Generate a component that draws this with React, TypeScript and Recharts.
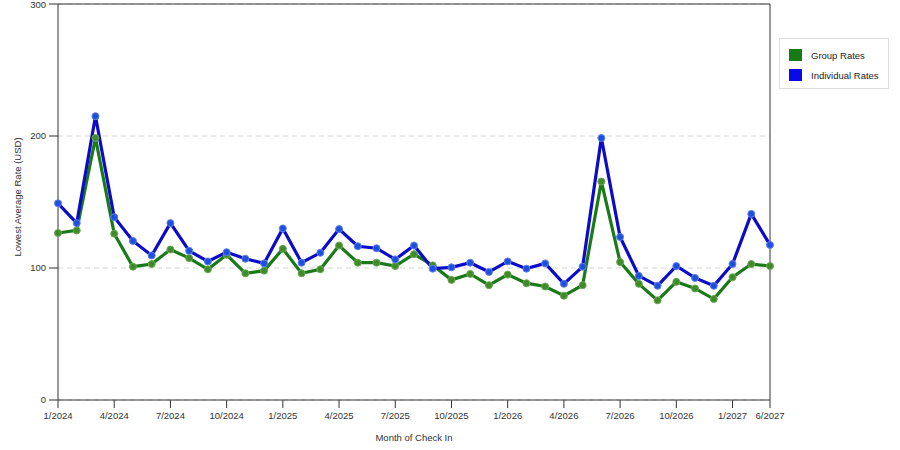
import { LineChart, Line, XAxis, YAxis, CartesianGrid, ReferenceLine } from "recharts";

const months = [
  "1/2024", "2/2024", "3/2024", "4/2024", "5/2024", "6/2024", "7/2024", "8/2024", "9/2024", "10/2024", "11/2024", "12/2024",
  "1/2025", "2/2025", "3/2025", "4/2025", "5/2025", "6/2025", "7/2025", "8/2025", "9/2025", "10/2025", "11/2025", "12/2025",
  "1/2026", "2/2026", "3/2026", "4/2026", "5/2026", "6/2026", "7/2026", "8/2026", "9/2026", "10/2026", "11/2026", "12/2026",
  "1/2027", "3/2027", "6/2027",
];

const groupRates = [
  126.5, 128.5, 198.5, 126, 101, 103, 114, 107.5, 99, 110, 96, 98,
  114.5, 96, 99, 117, 104, 104, 101.5, 110.5, 102, 91, 95.5, 87,
  95, 88.5, 86, 79, 87, 165.5, 104.5, 88, 75.5, 89.5, 84.5, 76.5,
  93, 103, 101.5,
];

const individualRates = [
  149, 134, 215, 138.5, 120.5, 109.5, 134, 113, 105, 112, 107, 103.5,
  130, 104, 111.5, 129.5, 116.5, 115, 106.5, 117, 99.5, 100.5, 104, 97,
  105, 99.5, 103.5, 88, 101, 198.5, 123.5, 94, 86.5, 101.5, 92.5, 86.5,
  103, 141, 117.5,
];

const xTicks = ["1/2024", "4/2024", "7/2024", "10/2024", "1/2025", "4/2025", "7/2025", "10/2025", "1/2026", "4/2026", "7/2026", "10/2026", "1/2027", "6/2027"];
const yTicks = [0, 100, 200, 300];

const series = [
  { key: "group", name: "Group Rates", color: "#1a7a1a", dot: "#3f8a2a", rim: "#6aa852", swatch: "#177a17" },
  { key: "individual", name: "Individual Rates", color: "#0c0cc8", dot: "#1f50dc", rim: "#5f80ee", swatch: "#0a0ae6" },
];

const data = months.map((m, i) => ({ month: m, group: groupRates[i], individual: individualRates[i] }));

const FONT = "'Liberation Sans', Arial, sans-serif";
const AXIS = "#333333";

export default function App() {
  return (
    <div style={{ position: "absolute", left: 0, top: 0, width: 900, height: 450, background: "#fff", fontFamily: FONT }}>
      <LineChart width={900} height={450} data={data} margin={{ top: 4, right: 130, left: 0, bottom: 10 }}>
        <CartesianGrid vertical={false} stroke="#d4d4d4" strokeDasharray="5 4" />
        <XAxis
          dataKey="month"
          ticks={xTicks}
          interval={0}
          height={40}
          tickSize={8}
          tickMargin={4}
          stroke={AXIS}
          tick={{ fill: AXIS, fontSize: 9.5, fontFamily: FONT }}
          label={{ value: "Month of Check In", position: "insideBottom", offset: -1, fill: AXIS, fontSize: 9.5, fontFamily: FONT }}
        />
        <YAxis
          domain={[0, 300]}
          ticks={yTicks}
          width={58}
          tickSize={9}
          tickMargin={3}
          stroke={AXIS}
          tick={{ fill: AXIS, fontSize: 9.5, fontFamily: FONT }}
          label={{
            value: "Lowest Average Rate (USD)",
            angle: -90,
            position: "insideLeft",
            offset: 18,
            dy: -5,
            fill: AXIS,
            fontSize: 9.5,
            fontFamily: FONT,
            style: { textAnchor: "middle" },
          }}
        />
        <ReferenceLine y={300} stroke={AXIS} strokeWidth={1} />
        <ReferenceLine x="6/2027" stroke={AXIS} strokeWidth={1} />
        {series.map((s) => (
          <Line
            key={s.key}
            dataKey={s.key}
            name={s.name}
            type="linear"
            stroke={s.color}
            strokeWidth={3.2}
            dot={{ r: 3.5, fill: s.dot, stroke: s.rim, strokeWidth: 1 }}
            activeDot={false}
            isAnimationActive={false}
          />
        ))}
      </LineChart>
      <div
        style={{
          position: "absolute",
          left: 779,
          top: 38,
          width: 110,
          height: 51,
          boxSizing: "border-box",
          border: "1px solid #dddddd",
          padding: "6px 0 0 9px",
        }}
      >
        {series.map((s) => (
          <div key={s.key} style={{ display: "flex", alignItems: "center", height: 20, fontSize: 9.5, color: "#222" }}>
            <span style={{ width: 13, height: 12, background: s.swatch, marginRight: 9, display: "inline-block" }} />
            <span>{s.name}</span>
          </div>
        ))}
      </div>
    </div>
  );
}
